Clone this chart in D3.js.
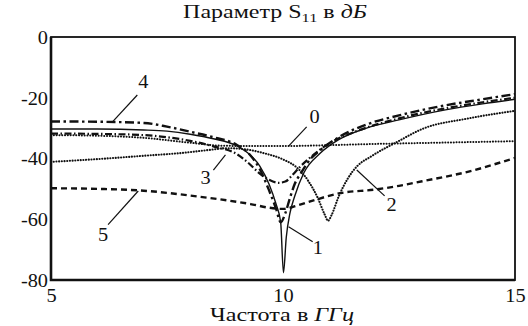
<!DOCTYPE html>
<html>
<head>
<meta charset="utf-8">
<script src="https://cdn.jsdelivr.net/npm/d3@7"></script>
<style>
  html, body { margin: 0; padding: 0; background: #fff; }
  svg { display: block; }
</style>
</head>
<body>
<svg id="chart" width="528" height="326"></svg>
<script>
// S11 reflection curves (dB) versus frequency (GHz)
const xTicks = [5, 10, 15];
const yTicks = [0, -20, -40, -60, -80];

const f0 = [5, 6, 7, 8, 8.7, 9.5, 10, 11, 12, 13, 14, 15];
const v0 = [-32.3, -32.5, -33.2, -34.8, -35.8, -35.9, -35.9, -35.6, -35.2, -34.9, -34.6, -34.3];

const f1 = [5, 6, 7, 7.5, 8, 8.5, 9, 9.25, 9.5, 9.7, 9.85, 9.95, 10.01, 10.07, 10.15, 10.25, 10.45, 10.8, 11.2, 11.8, 12.5, 13.5, 14.3, 15];
const v1 = [-30.3, -30.3, -30.6, -31, -32, -33.5, -35.8, -38.3, -42.5, -48.5, -55, -61, -77.6, -66, -58, -52.5, -44.7, -38.3, -33.8, -30, -27.3, -24, -22, -20.5];

const f2 = [5, 6, 7, 7.8, 8.4, 8.8, 9.2, 9.6, 10, 10.3, 10.55, 10.75, 10.9, 10.97, 11.05, 11.2, 11.4, 11.6, 11.9, 12.5, 13, 14, 15];
const v2 = [-41.1, -40.2, -39.1, -38.2, -37.2, -36.6, -37, -38.3, -40.3, -43, -47.5, -53, -58.5, -60.5, -58.5, -52.5, -46.5, -42.5, -39.3, -34.2, -30.3, -26.8, -24.3];

const f3 = [5, 6, 7, 7.5, 8, 8.5, 9, 9.25, 9.5, 9.7, 9.9, 10.05, 10.2, 10.35, 10.6, 11, 11.5, 12.5, 13.5, 14.3, 15];
const v3 = [-31.8, -31.9, -32.3, -33, -34.2, -36, -38.5, -41.4, -45, -47, -48, -47.6, -45.5, -43, -39.5, -35, -31.5, -26.8, -23.5, -21.5, -20];

const f4 = [5, 6, 7, 7.5, 8, 8.5, 9, 9.3, 9.5, 9.7, 9.85, 9.95, 10.05, 10.15, 10.25, 10.4, 10.6, 10.8, 11.2, 11.8, 12.5, 13.5, 14.3, 15];
const v4 = [-27.8, -27.9, -28.3, -29.5, -31.2, -33, -35.5, -39, -43.5, -50.5, -56.5, -61, -58, -53, -48.5, -44.5, -40, -37.3, -33, -28.8, -25.8, -22.5, -20.5, -18.8];

const f5 = [5, 6, 7, 8, 8.8, 9.3, 9.7, 10, 10.3, 10.7, 11.2, 12, 12.5, 13, 14, 15];
const v5 = [-49.8, -50, -50.6, -52.2, -53.8, -55, -56.2, -56.6, -55.5, -53.6, -51.5, -50.2, -49, -47.5, -44.3, -39.8];

// curve number, label position (f, v) and leader ends (f, v)
const labelNames = ["0", "1", "2", "3", "4", "5"];
const labelAt    = [[10.68, -26.3], [10.75, -69.4], [12.34, -55.3], [8.33, -46.4], [6.99, -14.8], [6.12, -65.1]];
const leaderFrom = [[10.51, -29.6], [10.64, -67.4], [12.19, -52.3], [8.5, -43.8], [6.86, -19.1], [6.23, -61.8]];
const leaderTo   = [[10.12, -35.9], [10.12, -62.5], [11.59, -43.8], [8.76, -38.8], [6.32, -28.0], [6.88, -50.7]];

const W = 528, H = 326;
const m = { left: 51, right: 13, top: 37, bottom: 46 };
// Latin digits from Liberation Serif, Cyrillic falls through to Noto Serif
const FONT = "'Liberation Serif', 'Noto Serif', 'DejaVu Serif', serif";
const SX = 1.13; // glyph width stretch for numerals
const svg = d3.select("#chart");

const x = d3.scaleLinear().domain([5, 15]).range([m.left, W - m.right]);
const y = d3.scaleLinear().domain([-80, 0]).range([H - m.bottom, m.top]);

const line = d3.line()
  .x(d => x(d[0]))
  .y(d => y(d[1]))
  .curve(d3.curveMonotoneX);

const series = [
  { f: f5, v: v5, width: 2.4, dash: "6,4", cap: "butt" },
  { f: f2, v: v2, width: 2.1, dash: "0.1,2.6", cap: "round" },
  { f: f0, v: v0, width: 2.0, dash: "0.1,2.7", cap: "round" },
  { f: f3, v: v3, width: 2.2, dash: "7,2.5,1.5,2.5", cap: "butt" },
  { f: f1, v: v1, width: 1.4, dash: null, cap: "butt" },
  { f: f4, v: v4, width: 2.4, dash: "9,3.5,2.5,3.5", cap: "butt" }
];

const plot = svg.append("g");
series.forEach(s => {
  const pts = s.f.map((fv, i) => [fv, s.v[i]]);
  plot.append("path")
    .attr("d", line(pts))
    .attr("fill", "none")
    .attr("stroke", "#111")
    .attr("stroke-width", s.width)
    .attr("stroke-linecap", s.cap)
    .attr("stroke-dasharray", s.dash);
});

// place a text node at (px, py) with horizontal glyph stretch
function put(sel, px, py, sx = SX) {
  return sel.attr("x", 0).attr("y", 0)
    .attr("transform", `translate(${px},${py}) scale(${sx},1)`);
}
// stretch a centred text so that it spans the given width
function fitWidth(sel, px, py, width) {
  sel.attr("x", 0).attr("y", 0).attr("transform", null);
  const w = sel.node().getBBox().width;
  return put(sel, px, py, width / w);
}

// leaders and curve numbers
labelNames.forEach((name, i) => {
  svg.append("line")
    .attr("x1", x(leaderFrom[i][0])).attr("y1", y(leaderFrom[i][1]))
    .attr("x2", x(leaderTo[i][0])).attr("y2", y(leaderTo[i][1]))
    .attr("stroke", "#111").attr("stroke-width", 1.2);
  put(svg.append("text"), x(labelAt[i][0]), y(labelAt[i][1]))
    .attr("text-anchor", "middle")
    .attr("dy", "0.35em")
    .style("font-family", FONT).style("font-size", "18px").style("fill", "#111")
    .text(name);
});

// frame
svg.append("rect")
  .attr("x", x(5)).attr("y", y(0))
  .attr("width", x(15) - x(5)).attr("height", y(-80) - y(0))
  .attr("fill", "none").attr("stroke", "#111").attr("stroke-width", 1.8);
svg.append("path")
  .attr("d", `M${x(5)},${y(0)}V${y(-80)}H${x(15)}`)
  .attr("fill", "none").attr("stroke", "#111").attr("stroke-width", 2.6);

// axes built from the scales, domain and tick lines hidden
const yAxis = d3.axisLeft(y).tickValues(yTicks).tickSize(0).tickFormat(d => String(d));
const gy = svg.append("g").attr("transform", `translate(${m.left},0)`).call(yAxis);
gy.select(".domain").remove();
gy.selectAll(".tick text").each(function () {
  put(d3.select(this), -3, 0)
    .attr("dy", "0.35em")
    .style("font-family", FONT).style("font-size", "18px").style("fill", "#111");
});

const xAxis = d3.axisBottom(x).tickValues(xTicks).tickSize(0).tickFormat(d => String(d));
const gx = svg.append("g").attr("transform", `translate(0,${H - m.bottom})`).call(xAxis);
gx.select(".domain").remove();
gx.selectAll(".tick text").each(function () {
  put(d3.select(this), 0, 22)
    .attr("dy", null)
    .style("font-family", FONT).style("font-size", "18px").style("fill", "#111");
});

// title
const title = svg.append("text")
  .attr("text-anchor", "middle")
  .style("font-family", FONT).style("font-size", "19px").style("fill", "#111");
title.append("tspan").text("Параметр S");
title.append("tspan").style("font-size", "13px").attr("dy", 4).text("11");
title.append("tspan").attr("dy", -4).text(" в ");
title.append("tspan").style("font-style", "italic").text("дБ");
fitWidth(title, 275, 18, 184);

// x-axis title
const xt = svg.append("text")
  .attr("text-anchor", "middle")
  .style("font-family", FONT).style("font-size", "19px").style("fill", "#111");
xt.append("tspan").text("Частота в ");
xt.append("tspan").style("font-style", "italic").text("ГГц");
fitWidth(xt, 282, 321, 144);
</script>
</body>
</html>
